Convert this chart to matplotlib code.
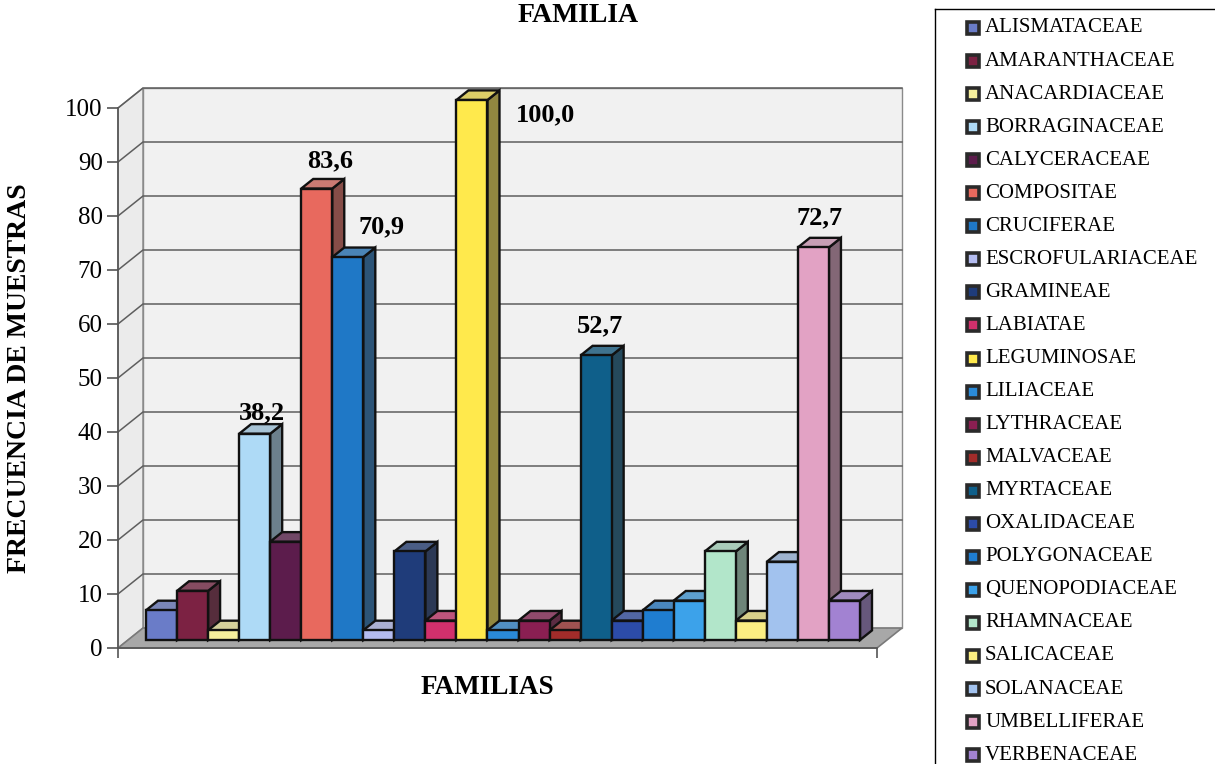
import matplotlib.pyplot as plt
import numpy as np
from matplotlib.colors import to_rgb
from matplotlib.lines import Line2D
from matplotlib.patches import Polygon, Rectangle

plt.rcParams['font.family'] = ['Liberation Serif', 'DejaVu Serif']

# datos
familias = ["ALISMATACEAE", "AMARANTHACEAE", "ANACARDIACEAE", "BORRAGINACEAE",
            "CALYCERACEAE", "COMPOSITAE", "CRUCIFERAE", "ESCROFULARIACEAE",
            "GRAMINEAE", "LABIATAE", "LEGUMINOSAE", "LILIACEAE", "LYTHRACEAE",
            "MALVACEAE", "MYRTACEAE", "OXALIDACEAE", "POLYGONACEAE",
            "QUENOPODIACEAE", "RHAMNACEAE", "SALICACEAE", "SOLANACEAE",
            "UMBELLIFERAE", "VERBENACEAE"]
frecuencia = [5.5, 9.1, 1.8, 38.2, 18.2, 83.6, 70.9, 1.8, 16.4, 3.6, 100.0, 1.8,
              3.6, 1.8, 52.7, 3.6, 5.5, 7.3, 16.4, 3.6, 14.5, 72.7, 7.3]
colores = ["#6a7cc8", "#7c2243", "#f6ef9c", "#aedaf6", "#5c1c4c", "#e8695e",
           "#1f78c6", "#b4bcf0", "#1f3c7a", "#d2306c", "#ffe94c", "#2a8ad8",
           "#8a1f52", "#a22c2a", "#0f5f8a", "#2c4ca8", "#1f7dd0", "#3ca2ea",
           "#b2e6ca", "#fbee82", "#a2c2ee", "#e2a2c4", "#a282d2"]
y_ticks = list(range(0, 101, 10))

# barras con etiqueta y su desplazamiento (px) respecto a la cara superior
etiquetas = {3: (7, 21), 5: (13, 28), 6: (34, 30), 10: (74, -15),
             14: (4, 30), 21: (6, 30)}

# geometria del falso 3D
PX_X = 31.04          # px por categoria
PX_Y = 5.4            # px por unidad
DX = 25 / PX_X        # profundidad total en x
DY = 20 / PX_Y        # profundidad total en y
D0, D1 = 0.4, 0.88    # profundidad de las barras
X_MIN, X_MAX = -0.58, 23.87


def proj(x, v, d):
    return (x + d * DX, v + d * DY)


def shade(c, f):
    return tuple(np.clip(np.array(to_rgb(c)) * f, 0, 1))


def mix(c, g, f):
    c = np.array(to_rgb(c))
    return tuple(np.clip(c * (1 - f) + np.array(to_rgb(g)) * f, 0, 1))


W, H = 1215, 764
fig = plt.figure(figsize=(W / 100, H / 100), dpi=100)
ax = fig.add_axes([118 / W, (H - 648) / H, (877 - 118) / W, (648 - 108) / H])
ax.set_xlim(X_MIN, X_MAX)
ax.set_ylim(0, 100)
ax.patch.set_visible(False)

# paredes y suelo
pared_izq = [proj(X_MIN, 0, 0), proj(X_MIN, 100, 0), proj(X_MIN, 100, 1), proj(X_MIN, 0, 1)]
pared_fondo = [proj(X_MIN, 0, 1), proj(X_MIN, 100, 1), proj(X_MAX, 100, 1), proj(X_MAX, 0, 1)]
suelo = [proj(X_MIN, 0, 0), proj(X_MAX, 0, 0), proj(X_MAX, 0, 1), proj(X_MIN, 0, 1)]
ax.add_patch(Polygon(pared_izq, closed=True, fc="#ebebeb", ec="#8a8a8a", lw=1, zorder=0, clip_on=False))
ax.add_patch(Polygon(pared_fondo, closed=True, fc="#f1f1f1", ec="#8a8a8a", lw=1, zorder=0, clip_on=False))
ax.add_patch(Polygon(suelo, closed=True, fc="#a8a8a8", ec="#7a7a7a", lw=1.2, zorder=1.5, clip_on=False))

for v in y_ticks[1:]:
    a, b, c = proj(X_MIN, v, 0), proj(X_MIN, v, 1), proj(X_MAX, v, 1)
    ax.plot([a[0], b[0], c[0]], [a[1], b[1], c[1]], color="#5e5e5e", lw=1.1,
            zorder=1, clip_on=False)

# barras
for i, (v, c) in enumerate(zip(frecuencia, colores)):
    x0, x1 = i, i + 1
    lado = [proj(x1, 0, D0), proj(x1, 0, D1), proj(x1, v, D1), proj(x1, v, D0)]
    tapa = [proj(x0, v, D0), proj(x1, v, D0), proj(x1, v, D1), proj(x0, v, D1)]
    ax.add_patch(Polygon(lado, closed=True, fc=mix(shade(c, 0.6), "#777777", 0.25),
                         ec="#111111", lw=1.7, zorder=3 + i, clip_on=False))
    ax.add_patch(Polygon(tapa, closed=True, fc=mix(c, "#999999", 0.35),
                         ec="#111111", lw=1.7, zorder=3 + i, clip_on=False))
    ax.bar(x0 + D0 * DX, v, width=1, bottom=D0 * DY, align="edge", color=c,
           edgecolor="#111111", linewidth=1.7, zorder=3.5 + i, clip_on=False)

for i, (ox, oy) in etiquetas.items():
    v = frecuencia[i]
    ax.annotate(f"{v:.1f}".replace(".", ","), xy=proj(i + 0.5, v, D0),
                xytext=(ox, oy), textcoords="offset pixels", ha="center",
                va="center", fontsize=19, fontweight="bold", zorder=60,
                annotation_clip=False)

# ejes
for s in ["top", "right"]:
    ax.spines[s].set_visible(False)
for s in ["left", "bottom"]:
    ax.spines[s].set_color("#555555")
    ax.spines[s].set_linewidth(1.2)
    ax.spines[s].set_zorder(2)
ax.set_yticks(y_ticks)
ax.set_xticks([X_MIN, X_MAX])
ax.set_xticklabels([])
ax.tick_params(axis="y", length=8, width=1.2, color="#555555", labelsize=18, pad=3)
ax.tick_params(axis="x", length=7, width=1.2, color="#555555")

fig.text(578 / W, 1 - 15 / H, "FAMILIA", ha="center", va="center",
         fontsize=20, fontweight="bold")
fig.text(20 / W, 1 - 378 / H, "FRECUENCIA DE MUESTRAS", ha="center", va="center",
         rotation=90, fontsize=20, fontweight="bold")
fig.text(487 / W, 1 - 687 / H, "FAMILIAS", ha="center", va="center",
         fontsize=19.5, fontweight="bold")

# leyenda
fig.add_artist(Line2D([935 / W, 935 / W], [1 - 9 / H, 0], color="black", lw=1))
fig.add_artist(Line2D([935 / W, 1], [1 - 9 / H, 1 - 9 / H], color="black", lw=1))
for k, (nombre, c) in enumerate(zip(familias, colores)):
    yc = 28 + 33.05 * k
    fig.add_artist(Rectangle((967 / W, 1 - (yc + 6) / H), 12 / W, 12 / H,
                             transform=fig.transFigure, fc=c, ec="#2a2a2a", lw=2.6))
    fig.text(985 / W, 1 - yc / H, nombre, ha="left", va="center", fontsize=15)

fig.savefig("out.png", dpi=100)
